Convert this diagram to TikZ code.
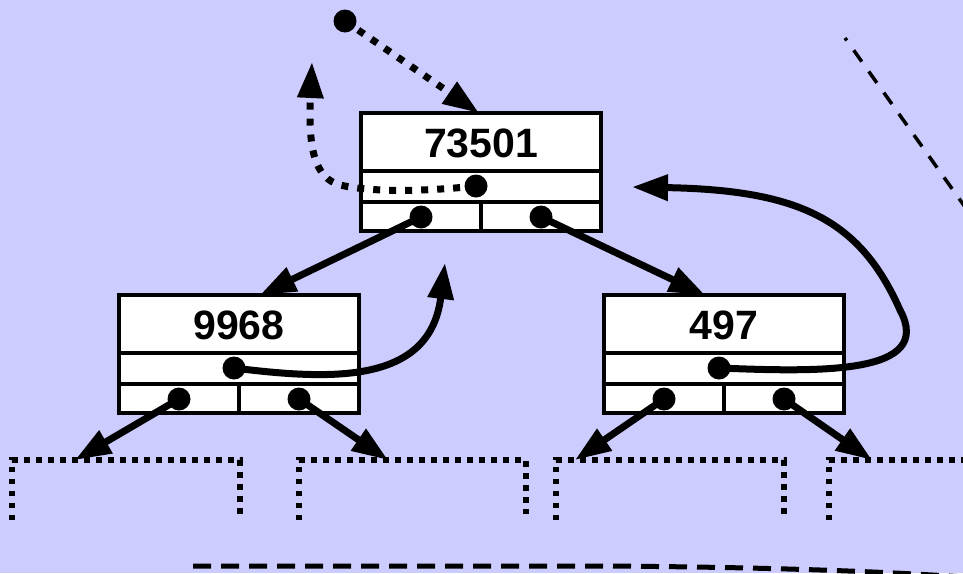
\documentclass[tikz,border=0pt]{standalone}
\usepackage{fontspec}
\setmainfont{Liberation Sans}
\usetikzlibrary{arrows.meta}
\definecolor{bgc}{RGB}{204,204,255}
\tikzset{
  treebox/.style={draw, line width=4pt, fill=white, minimum width=240pt,
    minimum height=118pt, inner sep=0pt, outer sep=0pt},
  boxline/.style={line width=4pt},
  keytext/.style={font=\fontsize{41pt}{41pt}\selectfont\bfseries, inner sep=0pt},
  dotc/.style={circle, fill=black, inner sep=0pt, minimum size=23pt},
  ptr/.style={line width=7pt, -{Triangle[length=36pt,width=25pt]}},
  dotptr/.style={ptr, dash pattern=on 7pt off 9pt},
  stub/.style={line width=5.5pt, dash pattern=on 5.5pt off 6.5pt},
  thindash/.style={line width=3.5pt, dash pattern=on 14pt off 12pt, dash phase=11pt},
  thickdash/.style={line width=5pt, dash pattern=on 18pt off 10pt},
}
\newcommand\bstnode[4]{%
  \node[treebox, anchor=north west] (#1) at (#2,#3) {};
  \draw[boxline] ([yshift=-58pt]#1.north west) -- ([yshift=-58pt]#1.north east);
  \draw[boxline] ([yshift=-89pt]#1.north west) -- ([yshift=-89pt]#1.north east);
  \draw[boxline] ([yshift=-89pt]#1.north) -- (#1.south);
  \node[keytext] (#1-key) at ([yshift=-30pt]#1.north) {#4};
  \node[dotc] (#1-mid) at ([xshift=-5pt,yshift=-73pt]#1.north) {};
  \node[dotc] (#1-l) at ([xshift=-60pt,yshift=-104pt]#1.north) {};
  \node[dotc] (#1-r) at ([xshift=60pt,yshift=-104pt]#1.north) {};
}
\begin{document}
\begin{tikzpicture}[x=1pt,y=-1pt]
  \useasboundingbox (0,0) rectangle (963,573);
  \clip (0,0) rectangle (963,573);
  \fill[bgc] (0,0) rectangle (963,573);

  % dashed outlines
  \draw[thindash] (845,38) -- (975,221);
  \draw[thickdash] (193,566) -- (600,566) .. controls (760,567) and (880,571) .. (980,578);

  % dotted subtree stubs
  \draw[stub] (12,520) -- (12,460) -- (240,460) -- (240,514);
  \draw[stub] (299,520) -- (299,460) -- (526,460) -- (526,514);
  \draw[stub] (556,520) -- (556,460) -- (784,460) -- (784,514);
  \draw[stub] (829,520) -- (829,460) -- (975,460);
  \coordinate (s1) at (75,460);
  \coordinate (s2) at (388,460);
  \coordinate (s3) at (575,460);
  \coordinate (s4) at (872,460);

  % tree nodes
  \bstnode{T}{361}{113}{73501}
  \bstnode{L}{119}{295}{9968}
  \bstnode{R}{604}{295}{497}

  % free ends
  \node[dotc] (start) at (345,21) {};
  \coordinate (upA) at (312,62);
  \coordinate (upB) at (445,263);
  \coordinate (leftC) at (632,187);

  % child pointers
  \draw[ptr] (T-l.center) -- ([xshift=21pt]L.north);
  \draw[ptr] (T-r.center) -- ([xshift=-19pt]R.north);
  \draw[ptr] (L-l.center) -- (s1);
  \draw[ptr] (L-r.center) -- (s2);
  \draw[ptr] (R-l.center) -- (s3);
  \draw[ptr] (R-r.center) -- (s4);

  % parent pointers
  \draw[dotptr] (start.center) -- ([xshift=-2pt]T.north);
  \draw[dotptr] (T-mid.center) .. controls (420,192) and (370,192) .. (340,185)
     .. controls (315,178) and (308,150) .. (upA);
  \draw[ptr] (L-mid.center) .. controls (330,380) and (430,385) .. (upB);
  \draw[ptr] (R-mid.center) .. controls (820,372) and (935,375) .. (900,310)
     .. controls (860,220) and (800,190) .. (leftC);
\end{tikzpicture}
\end{document}
